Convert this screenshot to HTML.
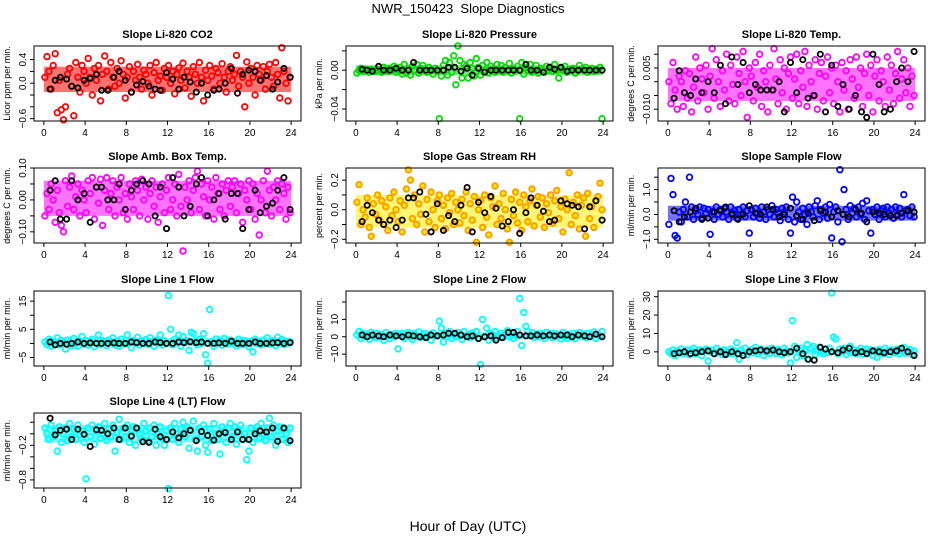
<!DOCTYPE html>
<html><head><meta charset="utf-8"><style>
body{margin:0;background:#fff}
svg{display:block;font-family:"Liberation Sans",sans-serif}
</style></head><body>
<svg id="fig" width="936" height="540" viewBox="0 0 936 540">
<text x="468" y="13" text-anchor="middle" font-size="13">NWR_150423&#160; Slope Diagnostics</text>
<text x="468" y="531" text-anchor="middle" font-size="14">Hour of Day (UTC)</text>
</svg>
<script>
const hours=[0.1,0.3,0.5,0.7,0.9,1.1,1.3,1.5,1.7,1.9,2.1,2.3,2.5,2.7,2.9,3.1,3.3,3.5,3.7,3.9,4.1,4.3,4.5,4.7,4.9,5.1,5.3,5.5,5.7,5.9,6.1,6.3,6.5,6.7,6.9,7.1,7.3,7.5,7.7,7.9,8.1,8.3,8.5,8.7,8.9,9.1,9.3,9.5,9.7,9.9,10.1,10.3,10.5,10.7,10.9,11.1,11.3,11.5,11.7,11.9,12.1,12.3,12.5,12.7,12.9,13.1,13.3,13.5,13.7,13.9,14.1,14.3,14.5,14.7,14.9,15.1,15.3,15.5,15.7,15.9,16.1,16.3,16.5,16.7,16.9,17.1,17.3,17.5,17.7,17.9,18.1,18.3,18.5,18.7,18.9,19.1,19.3,19.5,19.7,19.9,20.1,20.3,20.5,20.7,20.9,21.1,21.3,21.5,21.7,21.9,22.1,22.3,22.5,22.7,22.9,23.1,23.3,23.5,23.7,23.9];
const blackHours=[0.6,1.1,1.6,2.2,2.7,3.3,3.9,4.5,5.1,5.6,6.2,6.8,7.3,7.9,8.5,9.0,9.6,10.2,10.8,11.3,11.9,12.5,13.1,13.6,14.2,14.8,15.3,15.9,16.5,17.0,17.6,18.2,18.8,19.3,19.9,20.5,21.0,21.6,22.2,22.7,23.3,23.9];
const xTicks=[0,4,8,12,16,20,24];

const co2=[0.1,0.45,0.2,-0.1,0.3,0.5,-0.5,0.05,-0.45,-0.62,-0.4,0.15,0.25,-0.05,-0.55,0.35,0.1,-0.15,0.3,0.2,0.0,0.42,0.1,-0.2,0.25,0.05,0.3,-0.3,0.15,0.46,0.2,-0.1,0.35,0.1,-0.05,0.25,0.0,0.38,0.15,-0.25,0.1,0.28,-0.15,0.2,0.05,0.32,0.1,-0.1,0.22,0.15,0.0,0.3,-0.2,0.18,0.35,0.05,0.12,-0.12,0.25,0.1,0.3,0.0,0.2,-0.18,0.15,0.26,0.05,0.34,-0.08,0.2,0.1,-0.22,0.28,0.15,0.0,0.35,0.1,-0.3,0.22,0.05,0.3,0.12,-0.1,0.25,0.18,0.0,0.33,0.1,-0.15,0.2,0.28,0.05,0.15,0.47,-0.05,0.2,0.1,-0.4,0.36,0.0,0.25,0.1,-0.2,0.3,0.15,0.05,0.28,-0.1,0.2,0.32,0.1,-0.05,0.35,0.15,-0.25,0.6,0.2,0.0,-0.3,0.1];
const co2Black=[-0.1,0.05,0.1,0.07,-0.05,-0.08,0.05,0.08,0.15,-0.12,-0.12,0.1,0.2,0.05,-0.15,-0.03,0.03,-0.05,-0.1,-0.12,0.18,0.07,-0.1,0.1,0.02,-0.15,0.0,-0.2,-0.12,-0.1,0.0,0.25,-0.17,0.15,0.22,0.2,0.05,0.13,-0.1,0.02,0.25,0.1];
const pressure=[-0.003,0.0,0.002,-0.001,0.001,0.0,-0.002,0.001,0.0,-0.001,0.001,0.0,-0.002,0.003,0.0,-0.001,0.002,0.0,0.004,-0.002,0.0,0.003,-0.004,0.006,-0.003,0.002,-0.005,0.004,0.0,0.006,-0.003,0.002,0.005,0.0,-0.002,0.003,0.0,-0.004,0.002,-0.001,-0.05,-0.006,0.005,0.01,-0.005,0.008,-0.002,0.015,-0.015,0.025,0.01,-0.008,0.006,0.004,-0.008,0.008,0.002,-0.006,0.012,0.003,-0.005,0.005,0.0,0.008,-0.003,0.004,0.001,-0.002,0.006,0.0,0.005,-0.002,0.003,0.0,0.007,-0.003,0.002,0.0,0.004,-0.05,0.008,-0.004,0.003,0.0,0.006,-0.002,0.0,0.005,-0.003,0.002,0.0,-0.002,0.004,0.0,0.003,-0.001,0.006,0.0,-0.008,0.002,0.0,0.004,-0.002,0.0,0.001,0.002,-0.003,0.0,0.005,0.001,0.0,0.003,-0.002,0.0,0.002,-0.001,0.001,0.0,0.003,-0.05];
const pressureBlack=[0.001,0.0,-0.001,0.004,0.0,0.0,0.002,0.0,0.0,0.008,0.0,0.0,0.0,0.0,0.0,0.003,0.003,-0.001,0.002,-0.005,0.002,-0.002,0.0,0.0,0.0,0.0,0.0,0.0,0.006,0.0,0.0,-0.002,0.003,0.001,0.003,-0.001,0.0,0.0,0.0,0.0,0.0,0.0];
const liTemp=[0.0,-0.008,0.007,-0.003,-0.01,0.002,0.0,-0.009,0.004,-0.006,0.003,-0.011,-0.002,0.009,-0.007,0.005,0.001,-0.004,0.006,-0.01,0.002,0.012,-0.006,0.008,0.0,-0.009,0.004,-0.003,0.01,-0.007,0.006,-0.001,-0.008,0.009,0.003,-0.005,0.011,0.0,-0.013,0.005,0.002,-0.007,0.007,-0.002,0.01,-0.009,0.004,0.0,-0.011,0.006,-0.003,0.012,0.001,-0.008,0.008,-0.004,0.005,-0.01,0.003,0.009,-0.006,0.001,0.01,-0.008,0.004,-0.002,0.011,-0.009,0.006,0.0,-0.005,0.008,-0.01,0.003,0.007,-0.007,0.002,0.009,-0.004,0.005,-0.008,0.006,0.0,-0.011,0.007,-0.003,0.004,-0.01,0.008,0.001,-0.006,0.009,-0.002,0.005,-0.009,0.003,0.01,-0.005,0.006,-0.011,0.002,0.008,-0.007,0.004,0.0,-0.009,0.009,-0.003,0.006,-0.008,0.003,0.011,-0.006,0.001,0.008,-0.004,0.005,-0.009,0.002,-0.005];
const liTempBlack=[-0.006,0.004,-0.004,-0.005,0.001,-0.004,0.0,-0.004,0.006,-0.008,0.009,-0.001,0.007,-0.004,-0.001,-0.003,-0.003,-0.003,0.0,-0.011,0.007,-0.004,0.008,-0.006,-0.005,0.01,-0.011,0.006,-0.009,-0.001,-0.01,-0.005,-0.011,-0.013,0.01,-0.001,-0.011,-0.01,0.0,0.005,0.0,0.011];
const ambTemp=[-0.05,0.02,-0.03,0.05,0.0,-0.07,0.03,-0.04,-0.08,-0.1,0.06,-0.02,0.04,0.075,-0.03,0.01,0.05,-0.05,0.03,0.0,-0.04,0.06,0.02,0.07,-0.06,0.04,-0.01,0.065,-0.08,0.03,0.07,-0.03,0.02,0.06,-0.05,0.04,0.0,0.07,-0.04,0.02,-0.06,0.05,0.01,-0.03,0.06,0.03,-0.05,0.065,0.0,0.04,-0.06,0.02,0.06,-0.02,0.04,-0.07,0.01,0.05,-0.04,0.03,0.07,-0.03,0.0,0.05,-0.05,0.08,-0.02,-0.16,0.04,0.0,0.06,-0.04,0.03,0.07,0.09,-0.03,0.05,0.01,-0.05,0.06,0.0,0.04,-0.06,0.07,0.02,-0.03,0.05,-0.05,0.03,0.06,-0.02,0.04,0.06,-0.04,0.02,0.05,-0.07,0.03,0.0,0.06,-0.03,0.05,-0.06,0.02,-0.11,0.0,0.06,-0.04,0.09,0.03,-0.05,0.04,0.0,0.06,-0.03,0.05,0.02,-0.06,0.04,-0.04];
const ambTempBlack=[0.03,0.06,-0.06,-0.06,0.06,0.0,0.02,-0.07,0.04,0.04,0.0,0.0,0.05,-0.03,0.03,0.05,0.06,0.05,-0.05,0.04,-0.09,0.07,0.04,-0.05,-0.02,0.05,0.07,-0.05,0.0,0.02,-0.06,0.02,0.02,-0.09,-0.03,0.03,-0.04,-0.02,-0.01,0.03,0.07,-0.03];
const gasRH=[0.05,0.17,-0.1,0.0,-0.05,0.08,-0.12,-0.18,0.04,-0.03,0.1,-0.07,0.06,-0.1,0.02,-0.14,0.08,-0.04,0.12,0.0,-0.08,0.06,-0.15,0.03,0.14,0.27,0.2,-0.06,0.1,-0.1,0.04,-0.03,0.16,-0.15,0.07,-0.08,0.12,0.0,-0.12,0.06,0.1,-0.06,0.03,-0.13,0.08,-0.02,0.11,-0.1,0.05,0.0,-0.09,0.07,-0.04,0.12,-0.14,0.04,-0.07,0.09,-0.22,0.0,0.06,-0.12,0.1,-0.05,-0.17,0.08,0.02,0.16,-0.1,0.04,-0.06,0.11,0.0,-0.13,-0.22,0.07,-0.04,0.12,-0.09,0.05,-0.14,0.1,0.02,-0.08,0.06,0.14,-0.11,0.03,0.09,-0.05,0.08,-0.12,0.04,-0.02,0.1,-0.09,0.06,0.13,-0.06,0.02,-0.15,0.07,0.0,0.25,-0.1,0.05,-0.04,0.1,-0.13,0.03,0.08,-0.18,0.11,-0.06,0.02,-0.12,0.06,0.09,0.18,0.0];
const gasRHBlack=[-0.08,0.03,-0.02,-0.07,-0.1,-0.07,-0.12,-0.07,0.08,0.08,0.12,-0.03,-0.15,0.04,-0.14,-0.04,-0.08,0.03,0.15,-0.15,0.05,-0.02,0.09,0.01,-0.11,-0.08,0.0,-0.16,-0.02,0.08,0.03,-0.01,-0.08,-0.07,0.06,0.04,0.03,0.02,-0.13,0.02,0.06,-0.07];
const sampleFlow=[-0.4,1.45,0.8,-0.85,-0.95,0.1,-0.3,0.2,0.5,-0.1,1.5,0.3,-0.2,0.15,0.0,0.3,-0.15,0.25,0.05,0.2,-0.8,0.1,-0.2,0.3,0.0,0.2,-0.1,0.25,0.1,-0.2,0.3,0.05,0.15,-0.15,0.2,0.0,0.3,-0.1,0.15,-0.75,0.2,-0.1,0.25,0.05,-0.15,0.3,0.1,-0.2,0.2,0.0,0.35,-0.1,0.2,0.05,-0.25,0.25,0.1,0.3,-0.2,-0.75,0.7,-0.3,0.5,0.1,-0.2,0.25,0.0,-0.4,0.3,0.1,-0.1,0.35,0.55,-0.2,0.2,0.05,0.3,-0.15,0.4,-0.95,0.1,0.3,-0.3,1.8,-1.1,1.0,0.2,-0.2,0.35,0.05,0.25,-0.1,0.3,0.0,0.45,-0.2,0.55,0.15,-0.75,0.2,0.0,0.3,-0.2,0.15,0.25,-0.1,0.3,0.05,0.2,-0.15,0.3,0.0,0.25,-0.1,0.8,0.15,0.2,-0.05,0.3,-0.1];
const sampleFlowBlack=[0.15,-0.3,-0.1,0.1,0.25,-0.2,-0.15,0.1,0.15,0.3,0.0,-0.2,0.0,0.35,0.05,0.0,0.3,0.2,-0.1,0.0,0.25,-0.05,-0.2,0.05,-0.25,0.15,0.1,-0.1,0.15,0.0,-0.1,0.2,0.05,-0.3,0.1,0.05,0.0,-0.05,-0.05,0.05,0.15,0.1];
const line1=[0.5,-0.5,1.5,-1,0.8,-0.2,2,-0.5,1,0,-2,1.2,0.3,-0.8,1.8,0,-1,0.8,2.5,-0.3,1,-0.6,0.5,1.5,-1.2,0.2,3,-0.4,1,0.5,-0.8,1.2,0.3,2,-0.5,0.8,-1,1.5,0.2,-0.2,3,0.5,-1.5,1,0.2,2.2,-0.6,0.8,0,1.4,-0.4,2,0.6,-1,1.2,0.3,3,-0.5,0.9,0,17,5,-0.5,1.5,0.4,3,-1,2.5,0.5,1,-2.5,4,3.5,0.8,-0.5,1.5,0,3.5,-4,-7,12,0.5,-1,1.6,0.2,1,-0.6,1.8,0.4,-0.2,1.2,0,0.6,-0.8,1.5,0.2,-0.4,1,0.3,-1.2,0.8,-3,1.5,0,0.6,-0.5,1.2,0.2,2,-0.3,1,0.4,-0.8,2.2,0.2,1.4,-0.4,0.8,0.1,0.5];
const line1Black=[0.5,-0.5,0,-0.3,0,0.5,0,0.2,0,0,0,0.2,0,0,0.5,0.3,0,0,0.5,0.3,0,0,0.5,0.3,0.6,0.3,0.5,0,0,0.2,0,0.8,0,0,0,0.5,0,0,0.2,0.3,0,0.3];
const line2=[1,3,-1,2,0,1.5,-1.5,2.5,0.5,-0.5,2,0,1,-2,2.5,0.5,-1,1.5,0,2,-7,1,2,-1,0.5,2.5,0,-1.5,1.8,0.2,2.8,-0.5,1,2,0,1.2,-2,2.2,0.5,1,9,5,-3,2,0.5,3,-1,1.5,0,2.5,1,-1.5,3,0.5,1.5,-0.5,2.2,0.2,3,-1,-16,10,0,5,-2,2,1,3,-1,0.5,2,-0.5,1.5,3.5,0,2,-1,1,3,22,-5,14,6,3,1,2.5,-0.5,1.5,0,2,1,-1,2.5,0.5,1.8,-0.5,2,0.2,1.2,-1.2,2.5,0.5,-0.8,1.5,0,2,-1,1,2.5,0.3,1.5,-0.5,2,0,1.2,2.8,-1,1.5,0.5,3];
const line2Black=[1,0,1,0.5,0,1,0.5,0,1,0.5,0,-0.5,1,0.5,1,2,2,1,0,0.5,-1,0,0.5,-2,-0.5,2.5,2.5,1,0.5,0.5,1,0.5,1,0.5,1,1,0,1,0.5,0,1.5,0];
const line3=[0,-1,1,-2,0.5,-0.5,1.5,-1,0,1,-1.5,0.5,2,-1,0,1,-2,0.5,1.5,-5,0,1,-1,2,-0.5,0.5,-1.5,1,0,-0.8,1.5,-1,0.5,5,-4,1,-0.5,2,-1.5,0,1,-0.5,2.5,-1,0.5,1.5,-2,0,1,-0.8,2,0.3,-1,1.2,0,-1.5,2,0.5,-0.5,-6,17,3,-3,1,2,-2,0.5,4,-4,2,3,-1.5,1,2.5,0,-1,1.5,-0.5,2,32,8,7,-1,1.5,0,2,-1.5,0.5,3,-0.5,1,-1,0.5,2,-1.2,0,1.5,-0.8,1,-2,0.5,-3,1.2,0,-1,2,0.3,-1.5,1,0,-0.5,1.5,-1,0.5,2.5,-0.8,0,1.2,-1.5,0.5];
const line3Black=[-1,-0.5,0,-1,-0.5,0,0.5,-1,0,-1.5,0,-1,-2,0,0.5,1,0.5,1,0,-0.5,0,2,-1,-4,-4.5,2.5,1.5,0,-0.5,1,2,-0.5,0,-1,0.5,0,-0.5,0,0.5,2,0,-2];
const line4=[0.1,0.0,-0.1,0.15,-0.05,0.05,-0.3,0.12,-0.15,0.0,0.1,-0.12,0.18,-0.05,0.08,-0.1,0.15,-0.02,0.05,-0.15,-0.78,0.1,-0.05,0.15,-0.18,0.05,0.12,-0.08,0.0,0.18,-0.12,0.08,-0.05,0.15,-0.3,0.02,0.25,-0.1,0.1,-0.05,0.15,-0.15,0.05,0.12,-0.2,0.08,0.0,-0.1,0.18,0.05,-0.12,0.1,-0.05,0.15,-0.2,0.0,0.12,-0.08,-0.2,0.05,-0.95,0.1,-0.1,0.18,0.0,-0.15,0.08,0.2,-0.05,0.12,-0.25,0.05,0.22,-0.1,-0.3,0.1,-0.05,0.15,-0.2,-0.32,0.08,-0.12,0.18,0.0,-0.1,-0.35,0.12,0.05,-0.15,0.1,0.18,-0.05,0.12,-0.18,0.05,0.15,-0.1,0.0,-0.45,-0.3,0.1,-0.15,0.05,0.12,-0.08,0.18,0.0,-0.12,0.1,0.27,-0.05,0.15,-0.2,0.05,0.12,-0.1,0.08,0.0,-0.15,0.1];
const line4Black=[0.27,-0.02,0.06,0.08,-0.1,0.08,-0.01,-0.22,0.07,0.06,0.0,0.1,-0.1,0.1,-0.04,0.1,-0.14,-0.15,0.08,-0.05,-0.1,0.03,-0.07,0.0,0.06,-0.12,0.04,-0.03,-0.11,0.0,0.02,-0.1,0.03,-0.1,-0.1,0.0,0.05,0.03,0.1,-0.13,0.1,-0.12];

const panels=[
 {id:'li820-co2',title:'Slope Li-820 CO2',ylab:'Licor ppm per min.',col:0,row:0,yr:[-0.64,0.63],core:[-0.15,0.28],ticks:[-0.6,-0.4,-0.2,0,0.2,0.4],labels:['-0.6','','','0.0','','0.4'],c:co2,b:co2Black,color:'#ff0000'},
 {id:'li820-pressure',title:'Slope Li-820 Pressure',ylab:'kPa per min.',col:1,row:0,yr:[-0.0524,0.025],core:[-0.005,0.005],ticks:[-0.04,-0.02,0,0.02],labels:['-0.04','','0.00',''],c:pressure,b:pressureBlack,color:'#00dd00'},
 {id:'li820-temp',title:'Slope Li-820 Temp.',ylab:'degrees C per min.',col:2,row:0,yr:[-0.0143,0.013],core:[-0.007,0.005],ticks:[-0.01,-0.005,0,0.005,0.01],labels:['-0.010','','','0.005',''],c:liTemp,b:liTempBlack,color:'#ff00ff'},
 {id:'amb-box-temp',title:'Slope Amb. Box Temp.',ylab:'degrees C per min.',col:0,row:1,yr:[-0.135,0.1],core:[-0.05,0.06],ticks:[-0.1,-0.05,0,0.05,0.1],labels:['-0.10','','0.00','','0.10'],c:ambTemp,b:ambTempBlack,color:'#ff00ff'},
 {id:'gas-stream-rh',title:'Slope Gas Stream RH',ylab:'percent per min.',col:1,row:1,yr:[-0.225,0.282],core:[-0.12,0.1],ticks:[-0.2,-0.1,0,0.1,0.2],labels:['-0.2','','0.0','','0.2'],c:gasRH,b:gasRHBlack,color:'#ff9900',fill:'#ffee00'},
 {id:'sample-flow',title:'Slope Sample Flow',ylab:'ml/min per min.',col:2,row:1,yr:[-1.15,1.87],core:[-0.25,0.35],ticks:[-1,-0.5,0,0.5,1,1.5],labels:['-1.0','','0.0','','1.0',''],c:sampleFlow,b:sampleFlowBlack,color:'#0000ff'},
 {id:'line1-flow',title:'Slope Line 1 Flow',ylab:'ml/min per min.',col:0,row:2,yr:[-8,18.6],core:[-1,2],ticks:[-5,0,5,10,15],labels:['-5','','5','','15'],c:line1,b:line1Black,color:'#00ffff'},
 {id:'line2-flow',title:'Slope Line 2 Flow',ylab:'ml/min per min.',col:1,row:2,yr:[-16.8,26.3],core:[-1.5,2.5],ticks:[-10,0,10,20],labels:['-10','0','10',''],c:line2,b:line2Black,color:'#00ffff'},
 {id:'line3-flow',title:'Slope Line 3 Flow',ylab:'ml/min per min.',col:2,row:2,yr:[-7.7,33.1],core:[-1.5,1.5],ticks:[0,10,20,30],labels:['0','10','20','30'],c:line3,b:line3Black,color:'#00ffff'},
 {id:'line4-flow',title:'Slope Line 4 (LT) Flow',ylab:'ml/min per min.',col:0,row:3,yr:[-0.94,0.36],core:[-0.15,0.15],ticks:[-0.8,-0.6,-0.4,-0.2,0,0.2],labels:['-0.8','','','-0.2','',''],c:line4,b:line4Black,color:'#00ffff'}
];
const colX=[34,346,658], rowY=[46,168,291,413], W=267, H=75;
const NS='http://www.w3.org/2000/svg';
const svg=document.getElementById('fig');
function mk(tag,attrs,parent){const e=document.createElementNS(NS,tag);for(const k in attrs)e.setAttribute(k,attrs[k]);(parent||svg).appendChild(e);return e;}
panels.forEach(p=>{
  const x0=colX[p.col], y0=rowY[p.row];
  const xs=v=>x0+(v+0.96)/25.92*W;
  const ys=v=>y0+H-(v-p.yr[0])/(p.yr[1]-p.yr[0])*H;
  const g=mk('g',{});
  
  
  const t=mk('text',{x:x0+W/2,y:y0-8,'text-anchor':'middle','font-size':11,'font-weight':'bold'},g);
  t.textContent=p.title;
  
  
  const band=mk('rect',{x:xs(0),y:ys(p.core[1]),width:xs(24)-xs(0),height:ys(p.core[0])-ys(p.core[1]),fill:p.fill||p.color,opacity:0.55},g);
  
  
  const pts=mk('g',{fill:p.fill||'none',stroke:p.color,'stroke-width':1.8},g);
  
  
  p.c.forEach((v,i)=>{
    const c=mk('circle',{cx:xs(hours[i]).toFixed(1),cy:ys(v).toFixed(1),r:2.8},pts);
    
    
  });
  const bp=mk('g',{fill:'none',stroke:'#000','stroke-width':1.8},g);
  
  
  p.b.forEach((v,i)=>{
    const c=mk('circle',{cx:xs(blackHours[i]).toFixed(1),cy:ys(v).toFixed(1),r:2.6},bp);
    
    
  });
  const box=mk('rect',{x:x0,y:y0,width:W,height:H,fill:'none',stroke:'#000','stroke-width':1},g);
  
  
  const xa=mk('g',{},g);
  
  
  xTicks.forEach(v=>{
    mk('line',{x1:xs(v),x2:xs(v),y1:y0+H,y2:y0+H+4,stroke:'#000'},xa);
    const l=mk('text',{x:xs(v),y:y0+H+15,'text-anchor':'middle','font-size':10},xa);
    l.textContent=v;
    
    
  });
  const ya=mk('g',{},g);
  
  
  p.ticks.forEach((v,i)=>{
    const y=ys(v);
    mk('line',{x1:x0-4,x2:x0,y1:y,y2:y,stroke:'#000'},ya);
    if(p.labels[i]){
      const l=mk('text',{x:x0-8,y:y,'text-anchor':'middle','font-size':10,transform:`rotate(-90 ${x0-8} ${y})`},ya);
      l.textContent=p.labels[i].replace('-','\u2212');
      
      
    }
  });
  const yl=mk('text',{x:x0-24,y:y0+H/2,'text-anchor':'middle','font-size':9,transform:`rotate(-90 ${x0-24} ${y0+H/2})`},g);
  yl.textContent=p.ylab;
  
  
});
</script>
</body></html>
